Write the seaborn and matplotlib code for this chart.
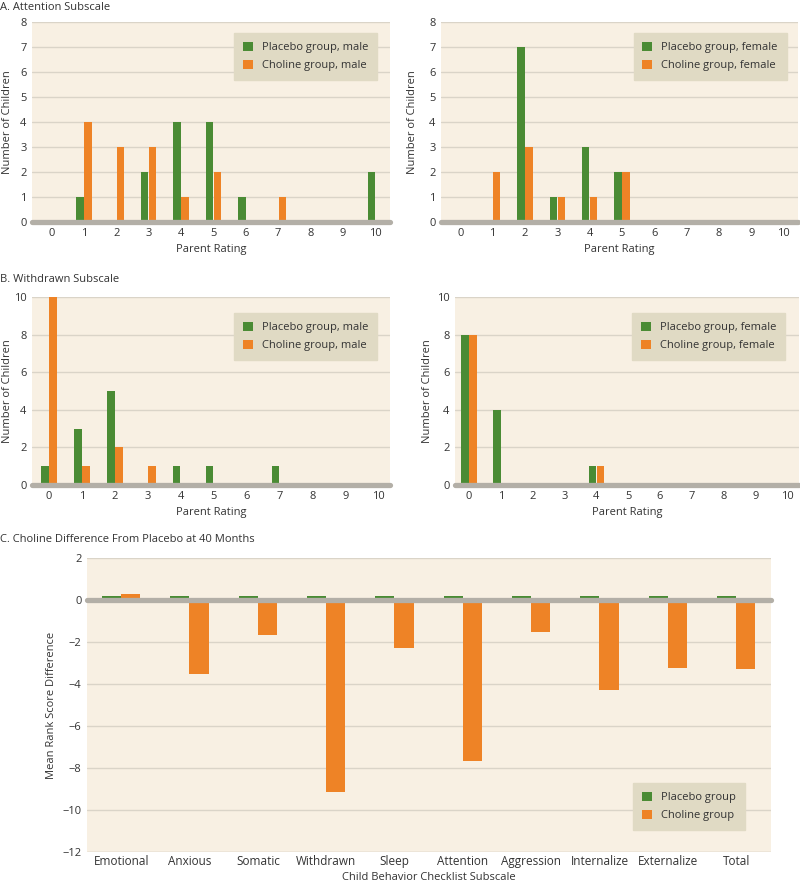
import pandas as pd
import matplotlib.pyplot as plt
import seaborn as sns

# Parent rating histograms (counts of children per rating)
ratings = list(range(11))
attn_male_placebo = [0, 1, 0, 2, 4, 4, 1, 0, 0, 0, 2]
attn_male_choline = [0, 4, 3, 3, 1, 2, 0, 1, 0, 0, 0]
attn_female_placebo = [0, 0, 7, 1, 3, 2, 0, 0, 0, 0, 0]
attn_female_choline = [0, 2, 3, 1, 1, 2, 0, 0, 0, 0, 0]
wd_male_placebo = [1, 3, 5, 0, 1, 1, 0, 1, 0, 0, 0]
wd_male_choline = [10, 1, 2, 1, 0, 0, 0, 0, 0, 0, 0]
wd_female_placebo = [8, 4, 0, 0, 1, 0, 0, 0, 0, 0, 0]
wd_female_choline = [8, 0, 0, 0, 1, 0, 0, 0, 0, 0, 0]

# Panel C: mean rank score difference
subscales = ["Emotional", "Anxious", "Somatic", "Withdrawn", "Sleep",
             "Attention", "Aggression", "Internalize", "Externalize", "Total"]
placebo_diff = [0.18, 0.18, 0.18, 0.18, 0.18, 0.18, 0.18, 0.18, 0.18, 0.18]
choline_diff = [0.3, -3.5, -1.65, -9.15, -2.3, -7.65, -1.5, -4.3, -3.25, -3.3]

GREEN = "#4a8b34"
ORANGE = "#ee8326"
BG = "#f8f0e3"
LEG_BG = "#e0dac4"
GRID = "#dad4c8"
ZERO = "#b3afa7"
TXT = "#333333"

sns.set_theme(style="white")
plt.rcParams["font.family"] = ["Open Sans", "DejaVu Sans"]
plt.rcParams["text.color"] = TXT
plt.rcParams["axes.labelcolor"] = TXT
plt.rcParams["xtick.color"] = TXT
plt.rcParams["ytick.color"] = TXT

W, H = 800, 885
fig = plt.figure(figsize=(W / 100, H / 100), dpi=100)


def px_axes(x0, y0, x1, y1):
    return fig.add_axes([x0 / W, 1 - y1 / H, (x1 - x0) / W, (y1 - y0) / H])


def style(ax, ymin, ymax, step, xlim):
    ax.set_facecolor(BG)
    for s in ax.spines.values():
        s.set_visible(False)
    ax.set_ylim(ymin, ymax)
    ax.set_yticks(range(ymin, ymax + 1, step))
    ax.set_xlim(*xlim)
    ax.yaxis.grid(True, color=GRID, lw=1)
    ax.set_axisbelow(True)
    ax.tick_params(length=0, labelsize=8, pad=4)
    ax.axhline(0, color=ZERO, lw=3.8, zorder=1.5, clip_on=False)


def legend(ax, loc, anchor):
    leg = ax.legend(loc=loc, bbox_to_anchor=anchor, borderaxespad=0,
                    frameon=True, fancybox=False, fontsize=8,
                    handlelength=0.9, handleheight=0.9, handletextpad=0.8,
                    borderpad=0.8, labelspacing=0.6, title=None)
    fr = leg.get_frame()
    fr.set_facecolor(LEG_BG)
    fr.set_edgecolor(LEG_BG)
    fr.set_alpha(1)


def hist_panel(ax, placebo, choline, sex, ymax, step, xlim, anchor, ylab_x):
    df = pd.DataFrame({
        "rating": ratings * 2,
        "count": placebo + choline,
        "group": [f"Placebo group, {sex}"] * 11 + [f"Choline group, {sex}"] * 11,
    })
    sns.barplot(data=df, x="rating", y="count", hue="group", ax=ax,
                palette=[GREEN, ORANGE], width=0.5, gap=0.08, saturation=1,
                edgecolor="none", zorder=1)
    style(ax, 0, ymax, step, xlim)
    ax.set_xlabel("Parent Rating", fontsize=8, labelpad=4)
    ax.set_ylabel("Number of Children", fontsize=8)
    # label anchor is the right edge of the rotated text
    ax.yaxis.set_label_coords(ylab_x, 0.5)
    legend(ax, "upper right", anchor)


# A. Attention
axA1 = px_axes(32, 22, 390, 222)
hist_panel(axA1, attn_male_placebo, attn_male_choline, "male", 8, 1,
           (-0.6, 10.45), (0.964, 0.945), -0.054)
axA2 = px_axes(441, 22, 798, 222)
hist_panel(axA2, attn_female_placebo, attn_female_choline, "female", 8, 1,
           (-0.6, 10.45), (0.968, 0.945), -0.064)

# B. Withdrawn
axB1 = px_axes(32, 297, 390, 485)
hist_panel(axB1, wd_male_placebo, wd_male_choline, "male", 10, 2,
           (-0.52, 10.36), (0.964, 0.915), -0.054)
axB2 = px_axes(455, 297, 799, 485)
hist_panel(axB2, wd_female_placebo, wd_female_choline, "female", 10, 2,
           (-0.44, 10.37), (0.96, 0.915), -0.064)

# C. Difference from placebo
axC = px_axes(87, 558, 771, 852)
dfc = pd.DataFrame({
    "subscale": subscales * 2,
    "diff": placebo_diff + choline_diff,
    "group": ["Placebo group"] * 10 + ["Choline group"] * 10,
})
sns.barplot(data=dfc, x="subscale", y="diff", hue="group", ax=axC,
            palette=[GREEN, ORANGE], width=0.56, saturation=1,
            edgecolor="none", zorder=1)
style(axC, -12, 2, 2, (-0.5, 9.51))
axC.set_yticks(range(-12, 3, 2))
axC.set_yticklabels([str(v).replace("-", "\u2212") for v in range(-12, 3, 2)])
axC.axhline(-12, color=GRID, lw=1)
axC.tick_params(axis="x", labelsize=8.5, pad=2)
axC.set_xlabel("Child Behavior Checklist Subscale", fontsize=8, labelpad=3)
axC.set_ylabel("Mean Rank Score Difference", fontsize=8)
axC.yaxis.set_label_coords(-0.044, 0.5)
legend(axC, "lower right", (0.962, 0.075))

fig.text(0.0, 1 - 7 / H, "A. Attention Subscale", fontsize=8, va="center")
fig.text(0.0, 1 - 279 / H, "B. Withdrawn Subscale", fontsize=8, va="center")
fig.text(0.0, 1 - 540 / H, "C. Choline Difference From Placebo at 40 Months",
         fontsize=8, va="center")

fig.savefig("out.png", dpi=100, facecolor="white")
